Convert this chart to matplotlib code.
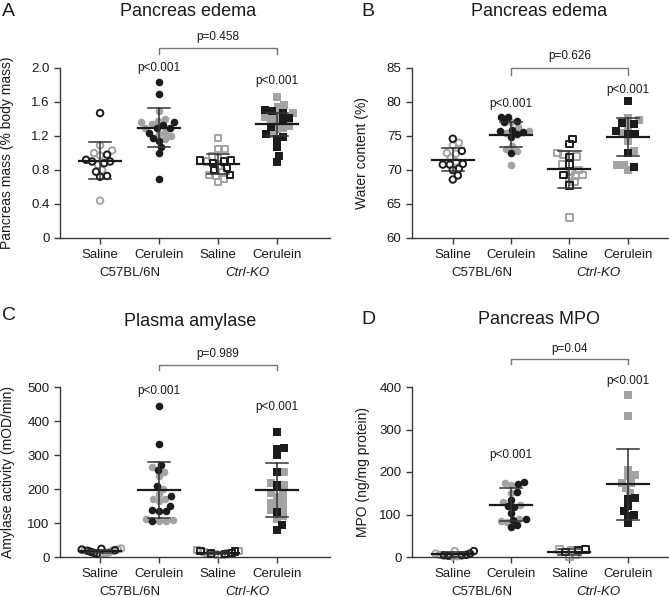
import numpy as np
import matplotlib
matplotlib.use("Agg")
import matplotlib.pyplot as plt

plt.rcParams['font.family'] = ['Liberation Sans', 'DejaVu Sans']

# ---------------- data ----------------
categories = ["Saline", "Cerulein", "Saline", "Cerulein"]
strains = ["C57BL/6N", "Ctrl-KO"]

# Panel A: pancreas mass (% body mass); k = black symbols, g = grey symbols
a_wt_sal_k = [1.47, 0.98, 0.92, 0.90, 0.90, 0.88, 0.78, 0.73, 0.72]
a_wt_sal_g = [1.09, 1.03, 1.00, 0.97, 0.86, 0.80, 0.44]
a_wt_cer_k = [1.84, 1.70, 1.36, 1.33, 1.30, 1.29, 1.24, 1.18, 1.14, 1.07, 1.00, 0.69]
a_wt_cer_g = [1.49, 1.40, 1.38, 1.36, 1.34, 1.30, 1.25, 1.22, 1.20, 1.17]
a_ko_sal_k = [0.91, 0.91, 0.90, 0.88, 0.82, 0.80, 0.74]
a_ko_sal_g = [1.18, 1.05, 1.05, 0.96, 0.94, 0.90, 0.85, 0.77, 0.74, 0.73, 0.70, 0.66]
a_ko_cer_k = [1.51, 1.50, 1.47, 1.41, 1.38, 1.31, 1.22, 1.19, 1.16, 1.07, 0.96, 0.89]
a_ko_cer_g = [1.66, 1.57, 1.54, 1.47, 1.45, 1.42, 1.40, 1.36, 1.32, 1.30, 1.28, 1.22]
a_mean = [0.91, 1.30, 0.87, 1.34]
a_sd = [0.22, 0.225, 0.115, 0.135]

# Panel B: water content (%)
b_wt_sal_k = [74.6, 72.8, 70.9, 70.8, 70.8, 70.2, 70.0, 69.2, 68.6]
b_wt_sal_g = [74.0, 73.6, 72.5, 72.4, 71.8, 71.2]
b_wt_cer_k = [77.8, 77.8, 77.2, 77.0, 75.9, 75.7, 75.6, 75.3, 74.9, 72.5]
b_wt_cer_g = [77.0, 76.3, 75.8, 75.5, 73.5, 73.1, 72.8, 70.8]
b_ko_sal_k = [74.6, 73.8, 71.9, 70.8, 69.3, 67.7]
b_ko_sal_g = [72.0, 72.5, 72.3, 70.8, 70.0, 69.8, 69.2, 69.3, 68.9, 68.3, 63.0]
b_ko_cer_k = [80.2, 76.9, 76.7, 75.8, 75.3, 75.3, 72.5, 70.4]
b_ko_cer_g = [77.6, 77.3, 76.5, 75.5, 74.2, 72.8, 70.8, 70.7, 70.0]
b_mean = [71.5, 75.2, 70.1, 74.85]
b_sd = [1.7, 1.85, 2.7, 2.75]

# Panel C: amylase activity (mOD/min)
c_wt_sal_k = [24, 22, 20, 18, 15, 12, 10]
c_wt_sal_g = [25, 22, 20, 18, 14, 12, 10, 8]
c_wt_cer_k = [443, 333, 272, 256, 208, 178, 150, 138, 136, 135, 107]
c_wt_cer_g = [264, 250, 238, 200, 185, 172, 170, 165, 113, 108, 106, 106]
c_ko_sal_k = [18, 16, 12, 10, 8]
c_ko_sal_g = [20, 18, 15, 12, 10, 8, 6, 5]
c_ko_cer_k = [367, 321, 319, 300, 250, 211, 133, 93, 80]
c_ko_cer_g = [250, 218, 212, 187, 185, 177, 162, 158, 152, 143, 138, 120, 113]
c_mean = [17, 197, 12, 197]
c_sd = [5, 83, 4, 80]

# Panel D: MPO (ng/mg protein)
d_wt_sal_k = [14, 8, 5, 4, 4, 3]
d_wt_sal_g = [14, 8, 5, 2, 1]
d_wt_cer_k = [176, 172, 154, 134, 120, 117, 104, 90, 87, 75, 70]
d_wt_cer_g = [175, 170, 150, 130, 122, 90, 85, 82]
d_ko_sal_k = [18, 17, 12]
d_ko_sal_g = [18, 17, 4, 1]
d_ko_cer_k = [139, 137, 121, 108, 100, 97, 79]
d_ko_cer_g = [382, 332, 205, 192, 190, 175, 173, 163, 151]
d_mean = [6, 123, 12, 171]
d_sd = [5, 39, 7, 83]

# p-value annotations
p_between = ["p=0.458", "p=0.626", "p=0.989", "p=0.04"]
p_within = "p<0.001"

BLACK = '#1c1c1c'
GREY = '#a3a3a3'
AXC = '#3a3a3a'

fig = plt.figure(figsize=(6.69, 5.97), dpi=100)
W, H = 669, 597


def add_axes(left, right, top, bottom):
    return fig.add_axes([left / W, 1 - bottom / H, (right - left) / W, (bottom - top) / H])


def swarm(ax, vals, d_px, px_per_x, fac=0.85, limit=21.0):
    vals = np.asarray(vals, float)
    ys = ax.transData.transform(np.column_stack([np.zeros(len(vals)), vals]))[:, 1]
    order = np.argsort(ys)
    placed = []
    offs = np.zeros(len(vals))
    cands = [0]
    for k in range(1, 120):
        cands += [k, -k]
    for i in order:
        for c in cands:
            ok = True
            for (px, py) in placed:
                if (c - px) ** 2 + (ys[i] - py) ** 2 < (fac * d_px) ** 2:
                    ok = False
                    break
            if ok:
                break
        offs[i] = c
        placed.append((c, ys[i]))
    mx = np.max(np.abs(offs))
    if mx > limit:
        offs = offs * limit / mx
    return offs / px_per_x


def panel(box, xlim, ylim, yticks, yticklabels, ylabel, groups, means, sds,
          title, letter, letter_xy, title_xy, ylabel_x, pcer, pbr, ptxt, bracket):
    ax = add_axes(*box)
    ax.set_xlim(*xlim)
    ax.set_ylim(*ylim)
    for s in ['top', 'right']:
        ax.spines[s].set_visible(False)
    for s in ['left', 'bottom']:
        ax.spines[s].set_color(AXC)
        ax.spines[s].set_linewidth(1.0)
    ax.set_yticks(yticks)
    ax.set_yticklabels(yticklabels)
    ax.set_xticks(range(4))
    ax.set_xticklabels(categories)
    ax.tick_params(axis='both', colors=AXC, labelcolor='#1a1a1a', labelsize=9.5,
                   length=4, width=1.0, direction='out')
    ax.tick_params(axis='x', pad=4)
    ax.set_ylabel(ylabel, fontsize=10, color='#1a1a1a')
    ax.yaxis.set_label_coords(ylabel_x, 0.5)

    px_per_x = (box[1] - box[0]) / (xlim[1] - xlim[0])
    d_px = 7.2
    for gi, (kv, gv) in enumerate(groups):
        allv = list(gv) + list(kv)
        offs = swarm(ax, allv, d_px, px_per_x)
        ng = len(gv)
        marker = 'o' if gi < 2 else 's'
        filled = gi % 2 == 1
        xs = gi + offs
        sz = 30 if marker == 'o' else 27
        if filled:
            ax.scatter(xs[:ng], gv, s=sz, marker=marker, color=GREY, linewidths=0, zorder=2, clip_on=False)
            ax.scatter(xs[ng:], kv, s=sz, marker=marker, color=BLACK, linewidths=0, zorder=3, clip_on=False)
        else:
            sz2 = 22 if marker == 'o' else 21
            ax.scatter(xs[:ng], gv, s=sz2, marker=marker, facecolors='none', edgecolors=GREY,
                       linewidths=1.4, zorder=2, clip_on=False)
            ax.scatter(xs[ng:], kv, s=sz2, marker=marker, facecolors='none', edgecolors=BLACK,
                       linewidths=1.4, zorder=3, clip_on=False)
        m, sd = means[gi], sds[gi]
        ax.plot([gi - 0.36, gi + 0.36], [m, m], color='#1a1a1a', lw=1.6, zorder=5, clip_on=False)
        ax.plot([gi, gi], [m - sd, m + sd], color='#333333', lw=1.1, zorder=5, clip_on=False)
        ax.plot([gi - 0.19, gi + 0.19], [m + sd, m + sd], color='#333333', lw=1.1, zorder=5, clip_on=False)
        ax.plot([gi - 0.19, gi + 0.19], [m - sd, m - sd], color='#333333', lw=1.1, zorder=5, clip_on=False)

    ax.text(1, pcer[0], p_within, ha='center', va='center', fontsize=8.5, color='#1a1a1a', clip_on=False)
    ax.text(3, pcer[1], p_within, ha='center', va='center', fontsize=8.5, color='#1a1a1a', clip_on=False)
    by, bd = bracket
    ax.plot([1, 1, 3, 3], [bd, by, by, bd], color='#777777', lw=1.0, clip_on=False)
    ax.text(2, ptxt, pbr, ha='center', va='center', fontsize=8.5, color='#1a1a1a', clip_on=False)

    # strain labels
    ax.annotate(strains[0], xy=(0.5, 0), xycoords=('data', 'axes fraction'), xytext=(0, -25.5),
                textcoords='offset points', ha='center', va='center', fontsize=9.5, color='#1a1a1a')
    ax.annotate(strains[1], xy=(2.5, 0), xycoords=('data', 'axes fraction'), xytext=(0, -25.5),
                textcoords='offset points', ha='center', va='center', fontsize=9.5, color='#1a1a1a',
                style='italic')

    fig.text(title_xy[0] / W, 1 - title_xy[1] / H, title, ha='center', va='center', fontsize=13,
             color='#1a1a1a')
    fig.text(letter_xy[0] / W, 1 - letter_xy[1] / H, letter, ha='left', va='center', fontsize=14,
             color='#1a1a1a')
    return ax


panel((60, 330, 68, 238), (-0.68, 3.90), (0, 2.0), [0, 0.4, 0.8, 1.2, 1.6, 2.0],
      ["0", "0.4", "0.8", "1.2", "1.6", "2.0"], "Pancreas mass (% body mass)",
      [(a_wt_sal_k, a_wt_sal_g), (a_wt_cer_k, a_wt_cer_g), (a_ko_sal_k, a_ko_sal_g), (a_ko_cer_k, a_ko_cer_g)],
      a_mean, a_sd, "Pancreas edema", "A", (2, 12), (188, 12), -0.17,
      (2.00, 1.85), p_between[0], 2.36, (2.24, 2.17))

panel((412, 668, 68, 238), (-0.70, 3.69), (60, 85), [60, 65, 70, 75, 80, 85],
      ["60", "65", "70", "75", "80", "85"], "Water content (%)",
      [(b_wt_sal_k, b_wt_sal_g), (b_wt_cer_k, b_wt_cer_g), (b_ko_sal_k, b_ko_sal_g), (b_ko_cer_k, b_ko_cer_g)],
      b_mean, b_sd, "Pancreas edema", "B", (361, 12), (539, 12), -0.168,
      (79.7, 81.8), p_between[1], 86.8, (85.0, 84.0))

panel((60, 330, 387, 557), (-0.68, 3.90), (0, 500), [0, 100, 200, 300, 400, 500],
      ["0", "100", "200", "300", "400", "500"], "Amylase activity (mOD/min)",
      [(c_wt_sal_k, c_wt_sal_g), (c_wt_cer_k, c_wt_cer_g), (c_ko_sal_k, c_ko_sal_g), (c_ko_cer_k, c_ko_cer_g)],
      c_mean, c_sd, "Plasma amylase", "C", (2, 315), (190, 321), -0.165,
      (487, 440), p_between[2], 597, (566, 551))

panel((412, 668, 387, 557), (-0.70, 3.69), (0, 400), [0, 100, 200, 300, 400],
      ["0", "100", "200", "300", "400"], "MPO (ng/mg protein)",
      [(d_wt_sal_k, d_wt_sal_g), (d_wt_cer_k, d_wt_cer_g), (d_ko_sal_k, d_ko_sal_g), (d_ko_cer_k, d_ko_cer_g)],
      d_mean, d_sd, "Pancreas MPO", "D", (361, 320), (539, 320), -0.164,
      (240, 415), p_between[3], 490, (467, 453))

fig.savefig("out.png", dpi=100, facecolor='white')
